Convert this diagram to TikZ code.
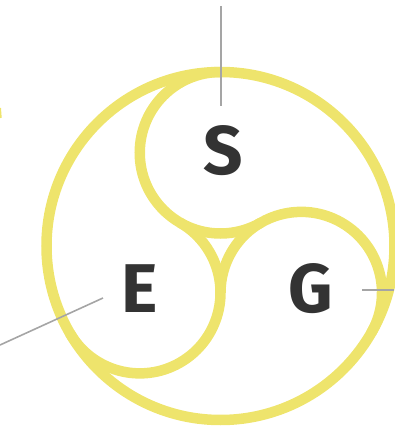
\documentclass[tikz,border=0pt]{standalone}
\usepackage{fontspec}
\setmainfont{Fira Sans}
\definecolor{ringyellow}{RGB}{238,228,108}
\definecolor{leadergray}{RGB}{165,165,165}
\definecolor{lettergray}{RGB}{51,51,51}
\begin{document}
\begin{tikzpicture}[x=1pt,y=1pt,
  ring/.style={draw=ringyellow, line width=10.5pt},
  leader/.style={draw=leadergray, line width=1.6pt},
  letter/.style={inner sep=0pt, text=lettergray, font=\fontsize{69}{69}\selectfont\bfseries}]
\useasboundingbox (-220.5,-185) rectangle (173.5,246);
% outer ring and the three lobes
\draw[ring] (0,0) circle[radius=174pt];
\draw[ring] (90:174pt) arc[start angle=90, end angle=300, radius=80.75pt];
\draw[ring] (210:174pt) arc[start angle=210, end angle=420, radius=80.75pt];
\draw[ring] (-30:174pt) arc[start angle=-30, end angle=180, radius=80.75pt];
% small cropped yellow mark at left edge
\draw[draw=ringyellow, line width=2pt] (-220.5,138) -- (-219.8,128);
% letters
\node[letter] (S) at (2.5,95) {S};
\node[letter] (E) at (-81,-42.5) {E};
\node[letter] (G) at (90.5,-43) {G};
% leader lines
\coordinate (Stop) at (0.5,240);
\coordinate (Send) at (0.5,140);
\coordinate (Eout) at (-220.5,-99);
\coordinate (Eend) at (-117.5,-52);
\coordinate (Gend) at (141.5,-44);
\coordinate (Gout) at (173.5,-44);
\draw[leader] (Stop) -- (Send);
\draw[leader] (Eout) -- (Eend);
\draw[leader] (Gend) -- (Gout);
\end{tikzpicture}
\end{document}
